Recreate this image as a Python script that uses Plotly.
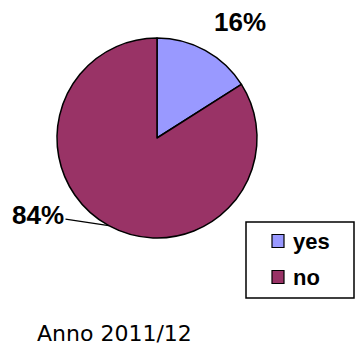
import math
import plotly.graph_objects as go

labels = ["yes", "no"]
values = [16, 84]
colors = ["#9999FF", "#993366"]
caption = "Anno 2011/12"

W, H = 356, 347
cx, cy, r = 157, 138, 100  # pie centre / radius in pixels

fig = go.Figure(go.Pie(
    labels=labels,
    values=values,
    sort=False,
    direction="clockwise",
    rotation=0,
    textinfo="none",
    hoverinfo="label+percent",
    marker=dict(colors=colors, line=dict(color="black", width=1.5)),
    domain=dict(x=[(cx - r) / W, (cx + r) / W],
                y=[1 - (cy + r) / H, 1 - (cy - r) / H]),
    showlegend=False,
))

total = sum(values)
annotations = []
label_font = dict(family="Liberation Sans, Arial", size=26, color="black")

# percentage labels: "yes" above right, "no" on the left with a leader line
pct = [f"{round(v / total * 100)}%" for v in values]
annotations.append(dict(
    x=240 / W, y=1 - 22 / H, xref="paper", yref="paper",
    xanchor="center", yanchor="middle",
    text=f"<b>{pct[0]}</b>", showarrow=False, font=label_font,
))
# leader line ends on the rim at the middle of the "no" slice
start = values[0] / total * 360
ang = math.radians(start + (360 - start) / 2)
px = cx + r * math.sin(ang)
py = cy - r * math.cos(ang)
annotations.append(dict(
    x=px / W, y=1 - py / H, xref="paper", yref="paper",
    text=f"<b>{pct[1]}</b>", showarrow=True, arrowhead=0, arrowwidth=1.2,
    arrowcolor="black", ax=38 - px, ay=215 - py, axref="pixel", ayref="pixel",
    standoff=0, font=label_font,
))

# legend box
shapes = [dict(type="rect", xref="paper", yref="paper",
               x0=246 / W, x1=354 / W, y0=1 - 298 / H, y1=1 - 222 / H,
               line=dict(color="black", width=1.5), fillcolor="white")]
rows = [241, 277]
for lab, col, yy in zip(labels, colors, rows):
    shapes.append(dict(type="rect", xref="paper", yref="paper",
                       x0=272 / W, x1=284 / W, y0=1 - (yy + 6.5) / H, y1=1 - (yy - 6.5) / H,
                       line=dict(color="black", width=1.2), fillcolor=col))
    annotations.append(dict(
        x=291 / W, y=1 - yy / H, xref="paper", yref="paper",
        text=f"<b>{lab}</b>", showarrow=False, xanchor="left", yanchor="middle",
        font=dict(family="Liberation Sans, Arial", size=22, color="black"),
    ))

annotations.append(dict(
    x=35 / W, y=1 - 333 / H, xref="paper", yref="paper",
    text=caption, showarrow=False, xanchor="left", yanchor="middle",
    font=dict(family="DejaVu Sans", size=22, color="black"),
))

fig.update_layout(
    width=W, height=H,
    margin=dict(l=0, r=0, t=0, b=0),
    paper_bgcolor="white", plot_bgcolor="white",
    annotations=annotations, shapes=shapes,
)
fig.write_html("out.html")
